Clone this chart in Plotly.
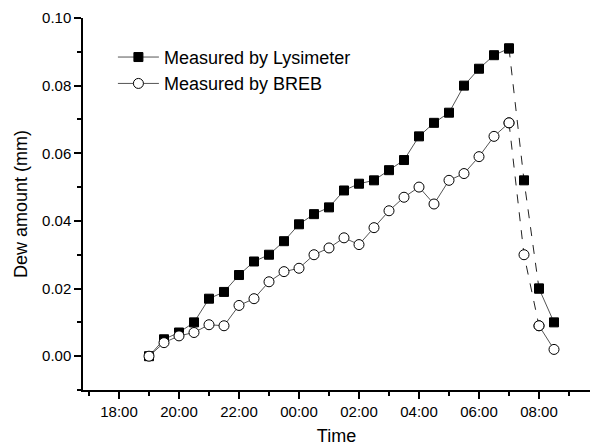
import pandas as pd
import plotly.graph_objects as go

# Half-hourly observations through the night
times = pd.date_range("2000-01-01 19:00", "2000-01-02 08:30", freq="30min")

lysimeter = [0.000, 0.005, 0.007, 0.010, 0.017, 0.019, 0.024, 0.028, 0.030, 0.034,
             0.039, 0.042, 0.044, 0.049, 0.051, 0.052, 0.055, 0.058, 0.065, 0.069,
             0.072, 0.080, 0.085, 0.089, 0.091, 0.052, 0.020, 0.010]
breb = [0.000, 0.004, 0.006, 0.007, 0.0093, 0.009, 0.015, 0.017, 0.022, 0.025,
        0.026, 0.030, 0.032, 0.035, 0.033, 0.038, 0.043, 0.047, 0.050, 0.045,
        0.052, 0.054, 0.059, 0.065, 0.069, 0.030, 0.009, 0.002]

# Segment 07:00 -> 08:00 is drawn dashed
dash_start, dash_end = 24, 26

LINE = dict(color="#555555", width=1)
FONT = "Liberation Sans, Arial, sans-serif"

fig = go.Figure()

def add_series(name, values, marker):
    solid = list(values)
    solid[dash_start + 1:dash_end] = [None] * (dash_end - dash_start - 1)
    fig.add_trace(go.Scatter(
        x=times, y=solid, name=name, mode="lines+markers",
        line=LINE, marker=marker, connectgaps=False))
    fig.add_trace(go.Scatter(
        x=times[dash_start:dash_end + 1], y=values[dash_start:dash_end + 1],
        mode="lines+markers", showlegend=False,
        line=dict(color="#222222", width=1, dash="dash"), marker=marker))

add_series("Measured by Lysimeter", lysimeter,
           dict(symbol="square", size=9, color="black", line=dict(color="black", width=1)))
add_series("Measured by BREB", breb,
           dict(symbol="circle", size=10, color="white", line=dict(color="black", width=1)))

fig.update_layout(
    width=592, height=446,
    margin=dict(l=83, r=2, t=18, b=56),
    paper_bgcolor="white", plot_bgcolor="white",
    font=dict(family=FONT, color="black", size=15),
    showlegend=True,
    legend=dict(x=0.059, y=0.944, xanchor="left", yanchor="top",
                bgcolor="rgba(0,0,0,0)", font=dict(size=18, family=FONT),
                tracegroupgap=0, itemwidth=41),
)

fig.update_xaxes(
    type="date",
    range=["2000-01-01 16:48", "2000-01-02 09:42"],
    tickformat="%H:%M", dtick=7200000, tick0="2000-01-01 18:00",
    ticks="outside", ticklen=7, tickwidth=1.5, tickcolor="black",
    minor=dict(dtick=3600000, tick0="2000-01-01 17:00", ticks="outside",
               ticklen=4, tickwidth=1.5, tickcolor="black"),
    showline=True, linecolor="black", linewidth=1.5,
    showgrid=False, zeroline=False,
    tickfont=dict(size=15),
    title=dict(text="Time", font=dict(size=18), standoff=11),
)

fig.update_yaxes(
    range=[-0.01, 0.10],
    tickvals=[0.00, 0.02, 0.04, 0.06, 0.08, 0.10], tickformat=".2f",
    ticks="outside", ticklen=7, tickwidth=1.5, tickcolor="black",
    minor=dict(dtick=0.01, tick0=0, ticks="outside", ticklen=4,
               tickwidth=1.5, tickcolor="black"),
    showline=True, linecolor="black", linewidth=1.5,
    showgrid=False, zeroline=False,
    tickfont=dict(size=15),
    title=dict(text="Dew amount (mm)", font=dict(size=18), standoff=10),
)

fig.write_html("out.html")
